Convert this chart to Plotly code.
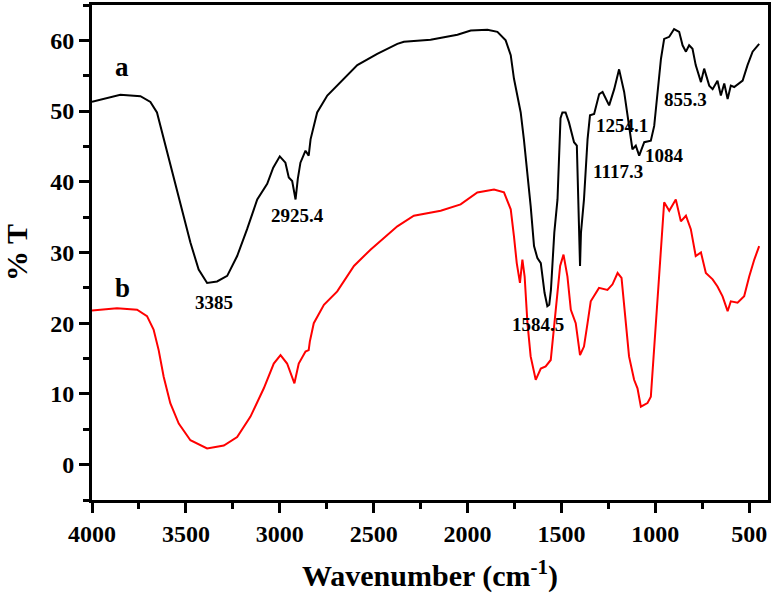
import plotly.graph_objects as go

# Spectrum a (black)
wn_a = [4000, 3849, 3742, 3689, 3654, 3627, 3583, 3529, 3476, 3432, 3387, 3334, 3280, 3227,
        3174, 3120, 3067, 3035, 3000, 2970, 2952, 2934, 2916, 2904, 2890, 2863, 2846, 2836,
        2801, 2747, 2676, 2587, 2481, 2374, 2339, 2197, 2054, 1983, 1894, 1841, 1797, 1770,
        1753, 1735, 1717, 1700, 1681, 1664, 1646, 1628, 1610, 1600, 1590, 1575, 1565, 1556,
        1547, 1538, 1521, 1505, 1495, 1478, 1460, 1433, 1418, 1406, 1401, 1396, 1380, 1361,
        1348, 1326, 1299, 1281, 1246, 1219, 1193, 1166, 1140, 1122, 1104, 1086, 1059, 1024,
        1006, 988, 970, 953, 926, 900, 873, 855, 837, 820, 802, 785, 757, 740, 713, 695, 669,
        651, 633, 615, 598, 580, 535, 509, 482, 447]
t_a = [51.3, 52.3, 52.1, 51.3, 49.8, 47.0, 42.3, 36.6, 31.4, 27.6, 25.7, 25.9, 26.7, 29.5,
       33.3, 37.5, 39.7, 42.0, 43.6, 42.7, 40.6, 40.1, 37.5, 40.4, 42.7, 44.4, 43.7, 46.0,
       49.8, 52.2, 54.1, 56.5, 58.1, 59.5, 59.8, 60.1, 60.8, 61.4, 61.5, 61.2, 60.0, 57.9,
       54.6, 52.2, 49.8, 46.0, 41.3, 36.6, 30.9, 29.2, 28.5, 26.2, 24.3, 22.4, 22.6, 24.7,
       28.1, 32.8, 37.5, 49.0, 49.8, 49.8, 48.4, 45.6, 45.1, 32.8, 28.1, 32.8, 37.5, 46.0,
       49.4, 49.6, 52.4, 52.7, 50.8, 53.1, 55.9, 52.7, 47.9, 44.6, 45.1, 43.7, 45.6, 45.8,
       47.9, 53.1, 57.4, 60.2, 60.5, 61.6, 61.2, 59.3, 58.4, 59.3, 58.8, 56.5, 54.1, 56.0,
       53.6, 53.1, 54.3, 52.2, 53.9, 51.7, 53.6, 53.4, 54.3, 56.5, 58.4, 59.5]

# Spectrum b (red)
wn_b = [4000, 3867, 3760, 3707, 3672, 3645, 3618, 3583, 3538, 3476, 3387, 3298, 3227, 3156,
        3085, 3032, 2996, 2961, 2922, 2899, 2863, 2846, 2840, 2819, 2765, 2694, 2605, 2517,
        2374, 2286, 2143, 2037, 1948, 1859, 1806, 1770, 1753, 1738, 1721, 1708, 1696, 1681,
        1664, 1637, 1610, 1584, 1557, 1530, 1507, 1489, 1468, 1450, 1424, 1401, 1380, 1361,
        1344, 1300, 1255, 1228, 1201, 1180, 1157, 1140, 1113, 1095, 1077, 1042, 1024, 1006,
        980, 953, 926, 891, 864, 837, 811, 785, 757, 731, 695, 669, 642, 615, 598, 562, 527,
        500, 473, 447]
t_b = [21.8, 22.1, 21.9, 21.0, 19.1, 16.2, 12.4, 8.7, 5.8, 3.45, 2.3, 2.7, 3.9, 6.8,
       10.8, 14.3, 15.5, 14.3, 11.5, 14.3, 16.0, 16.2, 17.4, 20.0, 22.6, 24.5, 28.1, 30.4,
       33.7, 35.2, 35.9, 36.8, 38.5, 38.9, 38.5, 36.1, 32.3, 28.5, 25.7, 29.0, 26.6, 20.0,
       15.3, 12.0, 13.6, 13.9, 14.8, 21.9, 28.1, 29.7, 26.6, 21.9, 20.0, 15.5, 16.7, 20.0,
       23.1, 25.0, 24.7, 25.5, 27.1, 26.4, 20.0, 15.3, 12.0, 10.8, 8.2, 8.7, 9.6, 16.2,
       26.6, 37.1, 35.9, 37.5, 34.4, 35.2, 33.3, 29.5, 30.0, 27.1, 26.2, 25.2, 23.8, 21.7,
       23.1, 22.9, 23.8, 26.6, 29.0, 30.9]

# Labels
curve_labels = ["a", "b"]
curve_label_x = [3838, 3838]
curve_label_y = [56.3, 25.0]
peak_labels = ["3385", "2925.4", "1584.5", "1254.1", "1117.3", "1084", "855.3"]
peak_x = [3348, 2906, 1624, 1175, 1197, 949, 837]
peak_y = [22.9, 35.2, 19.8, 48.0, 41.5, 43.7, 51.7]

x_ticks = [4000, 3500, 3000, 2500, 2000, 1500, 1000, 500]
y_ticks = [0, 10, 20, 30, 40, 50, 60]

FONT = "Liberation Serif, Times New Roman, serif"

fig = go.Figure()
fig.add_trace(go.Scatter(x=wn_a, y=t_a, mode="lines",
                         line=dict(color="black", width=2), showlegend=False))
fig.add_trace(go.Scatter(x=wn_b, y=t_b, mode="lines",
                         line=dict(color="#ff0000", width=2), showlegend=False))

for txt, x, y in zip(curve_labels, curve_label_x, curve_label_y):
    fig.add_annotation(x=x, y=y, text=f"<b>{txt}</b>", showarrow=False,
                       font=dict(family=FONT, size=27, color="black"))
for txt, x, y in zip(peak_labels, peak_x, peak_y):
    fig.add_annotation(x=x, y=y, text=f"<b>{txt}</b>", showarrow=False,
                       font=dict(family=FONT, size=19, color="black"))

fig.update_layout(
    width=774, height=603,
    margin=dict(l=92, r=6, t=5, b=103),
    paper_bgcolor="white", plot_bgcolor="white",
    font=dict(family=FONT, color="black"),
)
fig.update_xaxes(
    range=[4000, 400], tickvals=x_ticks, ticktext=[str(v) for v in x_ticks],
    automargin=False,
    showgrid=False, zeroline=False, showline=True, linecolor="black", linewidth=3,
    mirror=True, ticks="outside", ticklen=10, tickwidth=3, tickcolor="black",
    tickfont=dict(family=FONT, size=24, weight="bold"),
    minor=dict(dtick=250, tick0=0, ticks="outside", ticklen=6, tickwidth=3, tickcolor="black"),
    title=dict(text="<b>Wavenumber (cm<sup>-1</sup>)</b>", font=dict(family=FONT, size=30),
               standoff=20),
)
fig.update_yaxes(
    range=[-5, 65], tickvals=y_ticks,
    automargin=False,
    showgrid=False, zeroline=False, showline=True, linecolor="black", linewidth=3,
    mirror=True, ticks="outside", ticklen=10, tickwidth=3, tickcolor="black",
    tickfont=dict(family=FONT, size=24, weight="bold"),
    minor=dict(dtick=5, tick0=0, ticks="outside", ticklen=6, tickwidth=3, tickcolor="black"),
    title=dict(text="<b>% T</b>", font=dict(family=FONT, size=30), standoff=14),
)

fig.write_html("out.html", config={"displayModeBar": False},
               post_script="document.body.style.margin='0';")
